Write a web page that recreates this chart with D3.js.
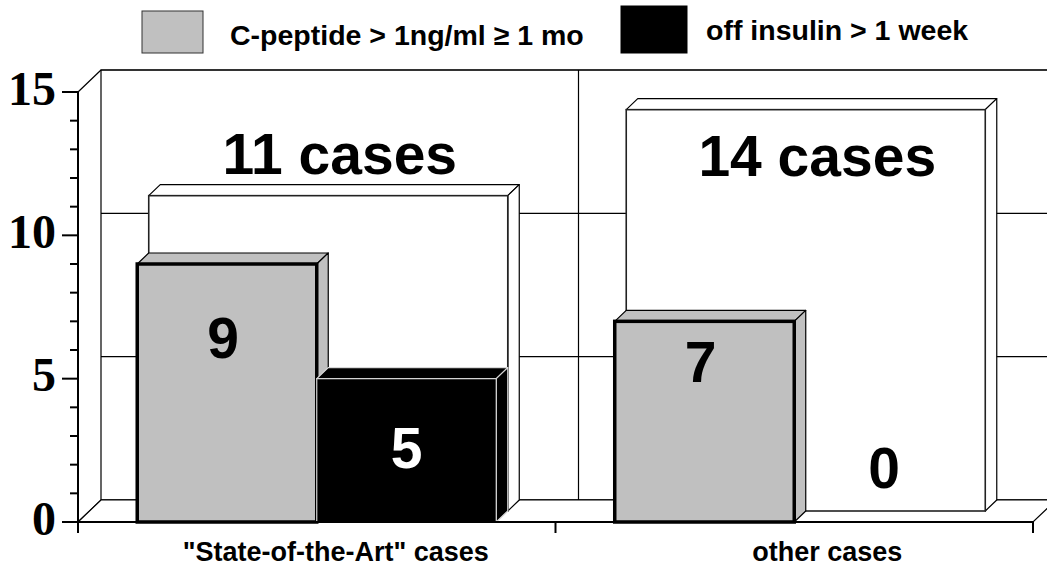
<!DOCTYPE html>
<html>
<head>
<meta charset="utf-8">
<script src="https://cdn.jsdelivr.net/npm/d3@7"></script>
<style>
  body { margin: 0; background: #fff; }
  svg { display: block; font-family: "Liberation Sans", Arial, sans-serif; }
</style>
</head>
<body>
<svg width="1047" height="571"></svg>
<script>
const categories = ['"State-of-the-Art" cases', 'other cases'];
const seriesNames = ['C-peptide > 1ng/ml \u2265 1 mo', 'off insulin > 1 week'];
const cPeptide = [9, 7];
const offInsulin = [5, 0];
const totalCases = [11, 14];
const yTicks = [0, 5, 10, 15];
const yMinorTicks = d3.range(0, 16);
// where the in-bar numbers sit, in y units (hand placed in the original)
const valueLabelAt = [[6.45, 2.6], [5.6, 1.9]];
const caseLabelAt = [12.85, 12.8];

const svg = d3.select('svg');
const W = 1047;

const dx = 23, dy = -22; // full depth of the 3d box
const x0 = d3.scaleBand().domain(categories).range([78, 1033]);
const x1 = d3.scaleBand().domain(seriesNames).range([0, x0.bandwidth()]).paddingOuter(0.33);
const y = d3.scaleLinear().domain([0, 15]).range([522, 92]);

const colors = { fill: ['#c0c0c0', '#000'], stroke: ['#000', '#d8d8d8'] };

svg.append('defs').append('clipPath').attr('id', 'clip')
  .append('rect').attr('x', 0).attr('y', 0).attr('width', W).attr('height', 571);

const plot = svg.append('g').attr('clip-path', 'url(#clip)');

const xL = x0.range()[0], xR = x0.range()[1];
// back wall
plot.append('rect')
  .attr('x', xL + dx).attr('y', y(15) + dy)
  .attr('width', xR - xL).attr('height', y(0) - y(15))
  .attr('fill', '#fff').attr('stroke', '#000').attr('stroke-width', 1.2);

plot.selectAll('.grid')
  .data(yTicks)
  .enter().append('line')
  .attr('class', 'grid')
  .attr('x1', xL + dx).attr('x2', xR + dx)
  .attr('y1', d => y(d) + dy).attr('y2', d => y(d) + dy)
  .attr('stroke', '#000').attr('stroke-width', 1.2);

plot.selectAll('.vgrid')
  .data(categories.slice(1))
  .enter().append('line')
  .attr('x1', d => x0(d) + dx).attr('x2', d => x0(d) + dx)
  .attr('y1', y(15) + dy).attr('y2', y(0) + dy)
  .attr('stroke', '#000').attr('stroke-width', 1.2);

// side wall outline
plot.append('path')
  .attr('d', `M${xL},${y(15)}L${xL + dx},${y(15) + dy}M${xL},${y(0)}L${xL + dx},${y(0) + dy}`)
  .attr('stroke', '#000').attr('stroke-width', 1.2).attr('fill', 'none');

// floor
plot.append('path')
  .attr('d', `M${xL},${y(0)}L${xR},${y(0)}L${xR + dx},${y(0) + dy}L${xL + dx},${y(0) + dy}Z`)
  .attr('fill', '#fff').attr('stroke', '#000').attr('stroke-width', 1.2);

// a 3d box: front face at depth z0, back at z1 (fractions of full depth)
function box(g, x, w, v, z0, z1, fill, stroke, frontStroke, frontWidth) {
  const ox = dx * z0, oy = dy * z0;
  const ex = dx * (z1 - z0), ey = dy * (z1 - z0);
  const left = x + ox, right = x + w + ox, top = y(v) + oy, bottom = y(0) + oy;
  g.append('path')
    .attr('d', `M${left},${top}L${left + ex},${top + ey}L${right + ex},${top + ey}L${right},${top}Z`)
    .attr('fill', fill).attr('stroke', stroke).attr('stroke-width', 1.2).attr('stroke-linejoin', 'round');
  g.append('path')
    .attr('d', `M${right},${top}L${right + ex},${top + ey}L${right + ex},${bottom + ey}L${right},${bottom}Z`)
    .attr('fill', fill).attr('stroke', stroke).attr('stroke-width', 1.2).attr('stroke-linejoin', 'round');
  g.append('rect')
    .attr('x', left).attr('y', top).attr('width', w).attr('height', bottom - top)
    .attr('fill', fill).attr('stroke', frontStroke).attr('stroke-width', frontWidth);
}

// totals, back row
const back = plot.append('g');
categories.forEach((c, i) => {
  box(back, x0(c) + x1(seriesNames[0]), x1.bandwidth() * 2, totalCases[i], 0.5, 1, '#fff', '#000', '#222', 1.6);
});

// front row
const front = plot.append('g');
categories.forEach((c, i) => {
  [cPeptide[i], offInsulin[i]].forEach((v, j) => {
    if (v <= 0) return;
    box(front, x0(c) + x1(seriesNames[j]), x1.bandwidth(), v, 0, 0.5,
      colors.fill[j], j === 0 ? '#000' : '#d8d8d8', colors.stroke[j], j === 0 ? 3.5 : 1.2);
  });
});

// case counts
svg.selectAll('.cases')
  .data(categories)
  .enter().append('text')
  .attr('x', d => x0(d) + x0.bandwidth() / 2 + dx)
  .attr('y', (d, i) => y(caseLabelAt[i]))
  .attr('dy', '0.36em')
  .attr('text-anchor', 'middle')
  .attr('font-weight', 'bold').attr('font-size', 57)
  .text((d, i) => `${totalCases[i]} cases`);

// value numbers
categories.forEach((c, i) => {
  [cPeptide[i], offInsulin[i]].forEach((v, j) => {
    svg.append('text')
      .attr('x', x0(c) + x1(seriesNames[j]) + x1.bandwidth() / 2 + (j === 0 ? -4 : 0))
      .attr('y', y(valueLabelAt[i][j]))
      .attr('dy', '0.36em')
      .attr('text-anchor', 'middle')
      .attr('font-weight', 'bold').attr('font-size', 57)
      .attr('fill', (j === 1 && v > 0) ? '#fff' : '#000')
      .text(v);
  });
});

// y axis
const yAxis = svg.append('g');
yAxis.append('line')
  .attr('x1', xL).attr('x2', xL).attr('y1', y(15)).attr('y2', y(0) + 11)
  .attr('stroke', '#000').attr('stroke-width', 2);
yAxis.selectAll('.minor')
  .data(yMinorTicks)
  .enter().append('line')
  .attr('x1', d => (d % 5 === 0 ? xL - 16 : xL - 8)).attr('x2', xL)
  .attr('y1', d => y(d)).attr('y2', d => y(d))
  .attr('stroke', '#000').attr('stroke-width', 2);
yAxis.selectAll('.ylab')
  .data(yTicks)
  .enter().append('text')
  .attr('x', 56)
  .attr('y', d => y(d) - 4)
  .attr('dy', '0.35em')
  .attr('text-anchor', 'end')
  .attr('font-family', '"Liberation Serif", "Times New Roman", serif')
  .attr('font-weight', 'bold').attr('font-size', 48)
  .text(d => d);

// x axis
const xAxis = svg.append('g');
xAxis.append('line')
  .attr('x1', xL).attr('x2', xR).attr('y1', y(0)).attr('y2', y(0))
  .attr('stroke', '#000').attr('stroke-width', 2);
xAxis.selectAll('.xt')
  .data(categories.map(c => x0(c)).concat([xR]))
  .enter().append('line')
  .attr('x1', d => d).attr('x2', d => d)
  .attr('y1', y(0)).attr('y2', y(0) + 11)
  .attr('stroke', '#000').attr('stroke-width', 2);
const xLabelShift = [19, 33];
xAxis.selectAll('.xlab')
  .data(categories)
  .enter().append('text')
  .attr('x', (d, i) => x0(d) + x0.bandwidth() / 2 + xLabelShift[i])
  .attr('y', 561)
  .attr('text-anchor', 'middle')
  .attr('font-weight', 'bold').attr('font-size', 27)
  .text(d => d);

// legend
const legend = svg.append('g');
const legX = [142, 621];
const legTextX = [230, 706];
seriesNames.forEach((s, j) => {
  legend.append('rect')
    .attr('x', legX[j]).attr('y', j === 0 ? 11 : 6)
    .attr('width', j === 0 ? 61 : 66).attr('height', j === 0 ? 42 : 47)
    .attr('fill', colors.fill[j]).attr('stroke', j === 0 ? '#333' : '#000').attr('stroke-width', 1);
  legend.append('text')
    .attr('x', legTextX[j]).attr('y', j === 0 ? 45 : 40)
    .attr('font-weight', 'bold').attr('font-size', 28.5)
    .text(s);
});
</script>
</body>
</html>
